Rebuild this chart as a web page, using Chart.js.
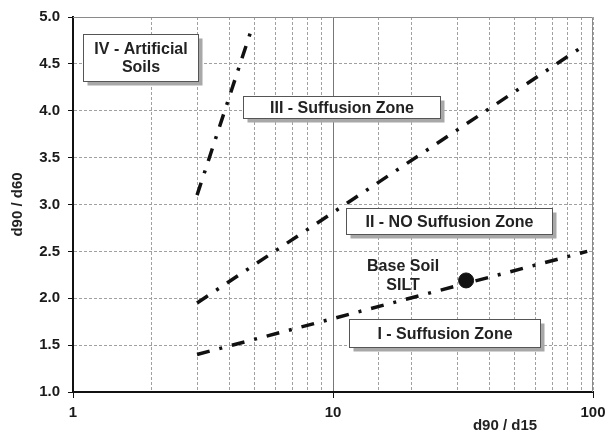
<!DOCTYPE html>
<html><head><meta charset="utf-8">
<script src="https://cdn.jsdelivr.net/npm/chart.js@4.4.0/dist/chart.umd.min.js"></script>
<style>html,body{margin:0;padding:0;background:#fff}#wrap{width:609px;height:434px}</style>
</head><body><div id="wrap"><canvas id="c" width="609" height="434"></canvas></div>
<script>
// Boundary lines (d90/d15 , d90/d60)
const lineI_x = [3, 95];
const lineI_y = [1.4, 2.5];
const lineII_x = [3, 93];
const lineII_y = [1.95, 4.7];
const lineIII_x = [3, 4.9];
const lineIII_y = [3.1, 4.9];
// Base soil point
const baseSoil_x = [32.5];
const baseSoil_y = [2.19];
// Axis ticks
const xTickLabels = [1, 10, 100];
const yTicks = [1.0, 1.5, 2.0, 2.5, 3.0, 3.5, 4.0, 4.5, 5.0];
const xTitle = 'd90 / d15';
const yTitle = 'd90 / d60';
// Zone labels: text lines, box corners in data coordinates
const zoneTexts = [['IV - Artificial', 'Soils'], ['III - Suffusion Zone'], ['II - NO Suffusion Zone'], ['I - Suffusion Zone']];
const zoneX1 = [1.093, 4.51, 11.2, 11.5];
const zoneX2 = [3.03, 25.9, 69.6, 62.5];
const zoneY1 = [4.82, 4.157, 2.963, 1.779];
const zoneY2 = [4.317, 3.923, 2.685, 1.48];
const baseSoilText = ['Base Soil', 'SILT'];
const baseSoilTextX = 18.6;
const baseSoilTextY = [2.333, 2.131];

const pts = (xs, ys) => xs.map((x, i) => ({x: x, y: ys[i]}));
const FONT = '"Liberation Sans", Arial, sans-serif';
const dashPattern = [13, 10, 3, 10];

const lineDs = (xs, ys) => ({
  type: 'line', data: pts(xs, ys), borderColor: '#111', borderWidth: 3.5,
  borderDash: dashPattern, borderCapStyle: 'butt', pointRadius: 0, fill: false, showLine: true
});

const annot = {
  id: 'annot',
  beforeDatasetsDraw(chart) {
    const ctx = chart.ctx, a = chart.chartArea;
    ctx.save();
    ctx.strokeStyle = '#8a8a8a'; ctx.lineWidth = 1;
    ctx.beginPath();
    ctx.moveTo(a.left, a.top + 0.5); ctx.lineTo(a.right - 0.5, a.top + 0.5); ctx.lineTo(a.right - 0.5, a.bottom);
    ctx.stroke();
    ctx.restore();
  },
  afterDatasetsDraw(chart) {
    const ctx = chart.ctx, xs = chart.scales.x, ys = chart.scales.y;
    ctx.save();
    zoneTexts.forEach((lines, i) => {
      const l = Math.round(xs.getPixelForValue(zoneX1[i])) + 0.5;
      const r = Math.round(xs.getPixelForValue(zoneX2[i])) + 0.5;
      const t = Math.round(ys.getPixelForValue(zoneY1[i])) + 0.5;
      const b = Math.round(ys.getPixelForValue(zoneY2[i])) + 0.5;
      ctx.fillStyle = '#a8a8a8';
      ctx.fillRect(l + 4, t + 4, r - l, b - t);
      ctx.fillStyle = '#fff';
      ctx.fillRect(l, t, r - l, b - t);
      ctx.strokeStyle = '#555'; ctx.lineWidth = 1;
      ctx.strokeRect(l, t, r - l, b - t);
      ctx.fillStyle = '#222';
      ctx.font = 'bold 16px ' + FONT;
      ctx.textAlign = 'center'; ctx.textBaseline = 'middle';
      const cx = (l + r) / 2, cy = (t + b) / 2, lh = 18;
      lines.forEach((s, k) => ctx.fillText(s, cx, cy + (k - (lines.length - 1) / 2) * lh + 1));
    });
    ctx.font = 'bold 16px ' + FONT;
    ctx.fillStyle = '#222'; ctx.textAlign = 'center'; ctx.textBaseline = 'middle';
    baseSoilText.forEach((s, k) => ctx.fillText(s, xs.getPixelForValue(baseSoilTextX), ys.getPixelForValue(baseSoilTextY[k])));
    // axis titles
    ctx.font = 'bold 15px ' + FONT;
    ctx.fillText(xTitle, 505, 426);
    ctx.translate(18, (chart.chartArea.top + chart.chartArea.bottom) / 2);
    ctx.rotate(-Math.PI / 2);
    ctx.fillText(yTitle, 0, 0);
    ctx.restore();
  }
};

new Chart(document.getElementById('c'), {
  type: 'scatter',
  data: {
    datasets: [
      lineDs(lineI_x, lineI_y),
      lineDs(lineII_x, lineII_y),
      lineDs(lineIII_x, lineIII_y),
      {type: 'scatter', data: pts(baseSoil_x, baseSoil_y), backgroundColor: '#111', borderColor: '#111', pointRadius: 7.5, pointHoverRadius: 7.5}
    ]
  },
  options: {
    responsive: false, animation: false,
    layout: {padding: {left: 0, right: 16, top: 17, bottom: 0}},
    plugins: {legend: {display: false}, tooltip: {enabled: false}},
    scales: {
      x: {
        type: 'logarithmic', min: 1, max: 100,
        afterFit(s) { s.height = 42; s.paddingLeft = 0; s.paddingRight = 0; },
        afterBuildTicks(s) { s.ticks = s.ticks.filter(t => t.value >= 1 && t.value <= 100); },
        ticks: {
          autoSkip: false, maxRotation: 0, padding: 6, color: '#1a1a1a',
          font: {family: FONT, size: 15, weight: 'bold'},
          callback: (v) => xTickLabels.includes(v) ? String(v) : ''
        },
        grid: {
          color: (c) => c.tick && c.tick.value === 10 ? '#777' : '#a0a0a0',
          lineWidth: 1,
          tickLength: 6,
          tickColor: (c) => c.tick && xTickLabels.includes(c.tick.value) ? '#111' : 'rgba(0,0,0,0)'
        },
        border: {display: true, color: '#111', width: 2, dash: (c) => (c.tick && c.tick.value !== 10) ? [3, 2] : []}
      },
      y: {
        min: 1, max: 5,
        afterFit(s) { s.width = 73; s.paddingTop = 0; s.paddingBottom = 0; },
        afterBuildTicks(s) { s.ticks = yTicks.map(v => ({value: v})); },
        ticks: {
          padding: 8, color: '#1a1a1a',
          font: {family: FONT, size: 15, weight: 'bold'},
          callback: (v) => Number(v).toFixed(1)
        },
        grid: {color: '#a0a0a0', lineWidth: 1, tickLength: 5, tickColor: '#111'},
        border: {display: true, color: '#111', width: 2, dash: (c) => c.tick ? [3, 2] : []}
      }
    }
  },
  plugins: [annot]
});
</script></body></html>
